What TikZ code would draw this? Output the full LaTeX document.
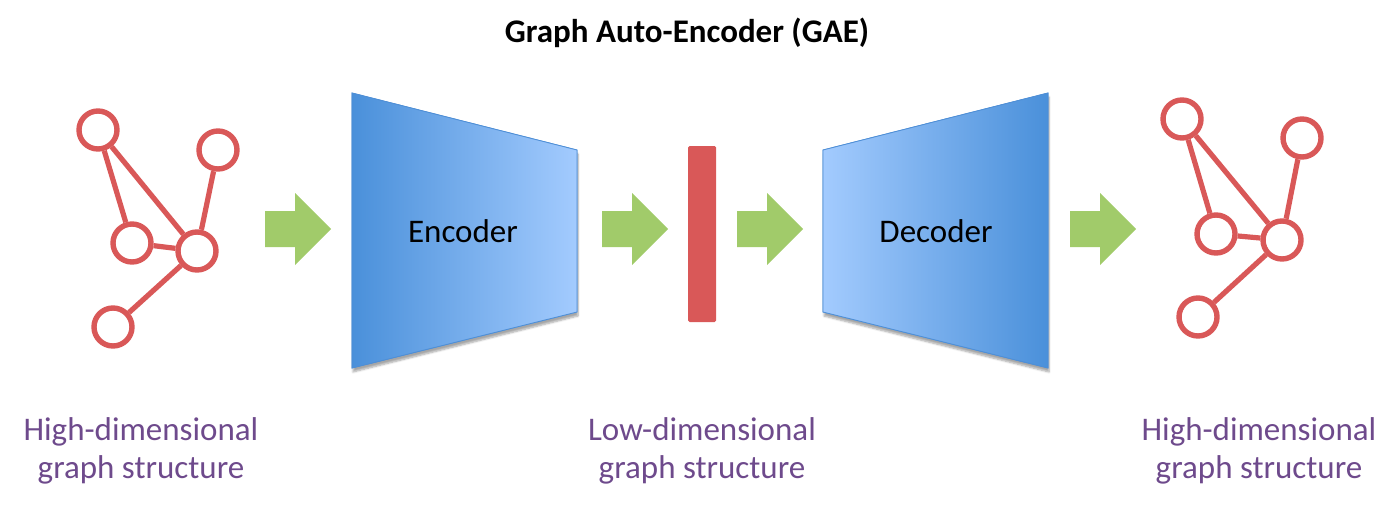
\documentclass[tikz,border=0pt]{standalone}
\usepackage{fontspec}
\setmainfont{Carlito}
\usetikzlibrary{shadows.blur}
\definecolor{gred}{HTML}{D95858}
\definecolor{ggreen}{HTML}{A1CB6A}
\definecolor{bdark}{HTML}{4A90DA}
\definecolor{blight}{HTML}{A3CBFE}
\definecolor{bedge}{HTML}{4F8FD6}
\definecolor{lpurple}{HTML}{6E4A8C}
\tikzset{
  gnode/.style={circle, draw=gred, line width=5.4pt, minimum size=38pt, inner sep=0pt, fill=white},
  gedge/.style={draw=gred, line width=5.2pt},
  garrow/.style={fill=ggreen},
  lbl/.style={text=lpurple, font=\fontsize{33}{38}\selectfont, align=center},
  boxlbl/.style={font=\fontsize{33}{38}\selectfont, text=black},
  trap/.style={draw=bedge, line width=0.8pt, blur shadow={shadow xshift=1pt, shadow yshift=-4pt, shadow blur steps=6, shadow opacity=35}},
}
\begin{document}
\begin{tikzpicture}[x=1pt, y=-1pt]
\useasboundingbox (0,0) rectangle (1396,506);
% title
\node[font=\bfseries\fontsize{33}{38}\selectfont, anchor=base] (title) at (687,42) {Graph Auto-Encoder (GAE)};

% left graph
\node[gnode] (la) at (98,130) {};
\node[gnode] (lb) at (218,150) {};
\node[gnode] (lc) at (132,243) {};
\node[gnode] (ld) at (197,251) {};
\node[gnode] (le) at (113,327) {};
\path[gedge] (la) -- (lc);
\path[gedge] (la) -- (ld);
\path[gedge] (lb) -- (ld);
\path[gedge] (lc) -- (ld);
\path[gedge] (ld) -- (le);

% right graph
\node[gnode] (ra) at (1182,119) {};
\node[gnode] (rb) at (1302,138) {};
\node[gnode] (rc) at (1216,234) {};
\node[gnode] (rd) at (1282,240) {};
\node[gnode] (re) at (1198,317) {};
\path[gedge] (ra) -- (rc);
\path[gedge] (ra) -- (rd);
\path[gedge] (rb) -- (rd);
\path[gedge] (rc) -- (rd);
\path[gedge] (rd) -- (re);

% encoder
\shade[trap, left color=bdark, right color=blight]
  (352,93) -- (577,150) -- (577,312) -- (352,368) -- cycle;
\shade[draw=bedge, line width=0.8pt, left color=bdark, right color=blight]
  (352,93) -- (577,150) -- (577,312) -- (352,368) -- cycle;
\node[boxlbl] (enc) at (463,231) {Encoder};

% decoder
\shade[trap, left color=blight, right color=bdark]
  (823,150) -- (1048,93) -- (1048,368) -- (823,312) -- cycle;
\shade[draw=bedge, line width=0.8pt, left color=blight, right color=bdark]
  (823,150) -- (1048,93) -- (1048,368) -- (823,312) -- cycle;
\node[boxlbl] (dec) at (936,231) {Decoder};

% bottleneck bar
\fill[gred, rounded corners=1.5pt] (688,146) rectangle (716,322);

% green arrows
\foreach \x in {265, 602, 737, 1070} {
  \fill[garrow] (\x,211) -- (\x+30,211) -- (\x+30,193) -- (\x+66,229)
    -- (\x+30,265) -- (\x+30,247) -- (\x,247) -- cycle;
}

% labels
\node[lbl] (l1) at (141,451) {High-dimensional\\graph structure};
\node[lbl] (l2) at (702,451) {Low-dimensional\\graph structure};
\node[lbl] (l3) at (1259,451) {High-dimensional\\graph structure};
\end{tikzpicture}
\end{document}
